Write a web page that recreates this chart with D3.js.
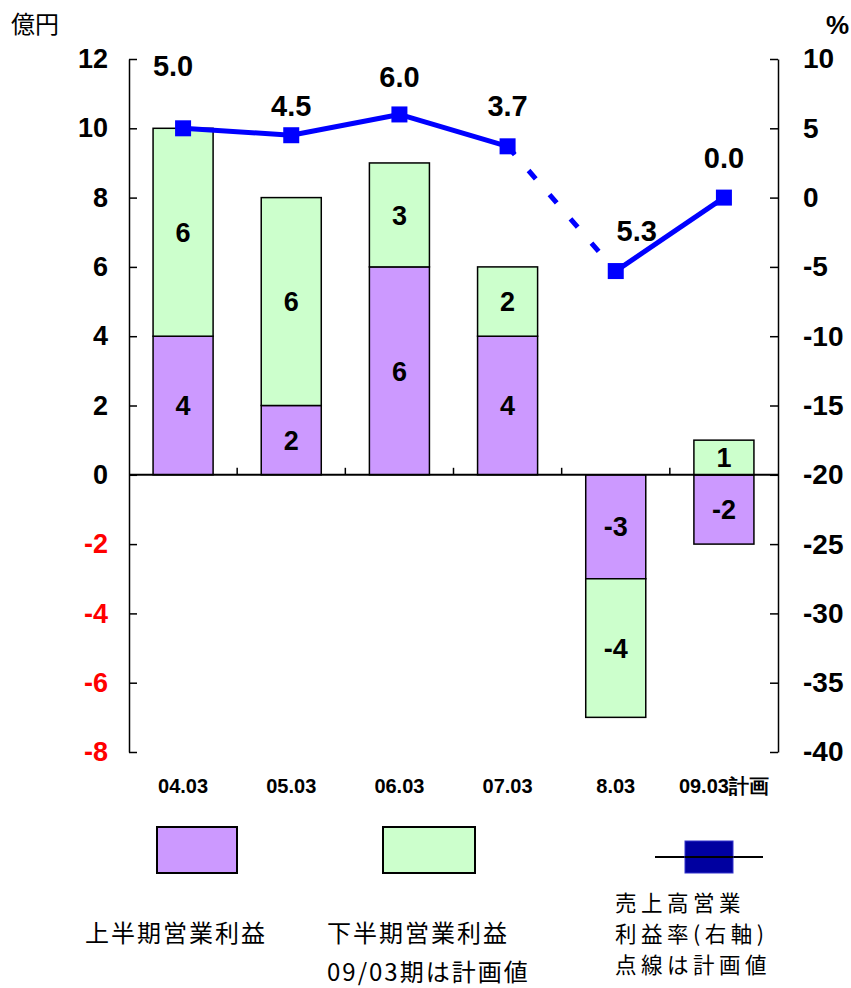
<!DOCTYPE html>
<html>
<head>
<meta charset="utf-8">
<script src="https://cdn.jsdelivr.net/npm/d3@7"></script>
<style>
  html, body { margin: 0; padding: 0; background: #fff; }
  svg { display: block; }
  .num { font-family: "Liberation Sans", Arial, sans-serif; font-weight: bold; }
  .jp { font-family: "Noto Sans CJK JP", "Noto Sans", sans-serif; }
</style>
</head>
<body>
<svg id="chart" width="851" height="988"></svg>
<script>
// Fiscal periods (March year-end)
const categories = ["04.03", "05.03", "06.03", "07.03", "8.03", "09.03計画"];
// Operating profit, 億円
const firstHalf  = [4, 2, 6, 4, -3, -2];   // 上半期営業利益
const secondHalf = [6, 6, 3, 2, -4, 1];    // 下半期営業利益
// Operating margin on sales, % (right axis)
const marginRate = [5.0, 4.5, 6.0, 3.7, -5.3, 0.0];
// Segment index drawn dotted (planned figure)
const dottedSegments = [3];
// Axis ticks
const leftTicks  = [-8, -6, -4, -2, 0, 2, 4, 6, 8, 10, 12];
const rightTicks = [-40, -35, -30, -25, -20, -15, -10, -5, 0, 5, 10];

// Small label nudges for the rate labels (layout only)
const rateLabelNudge = [[-10, -22], [0, 11], [0, 3], [0, 0], [21, 0], [0, 0]];

const svg = d3.select("#chart");
const plot = { left: 129, right: 778, top: 59, bottom: 752 };

const x = d3.scaleBand().domain(categories).range([plot.left, plot.right]).padding(0);
const barW = x.bandwidth() * 0.555;
const yL = d3.scaleLinear().domain([-8, 12]).range([plot.bottom, plot.top]);
const yR = d3.scaleLinear().domain([-40, 10]).range([plot.bottom, plot.top]);

const purple = "#CC99FF", green = "#CCFFCC", blue = "#0000FF";
const intLabel = d => String(d);   // plain hyphen-minus for negatives

// Stacked bars (diverging so negatives stack downward)
const rows = categories.map((c, i) => ({ cat: c, first: firstHalf[i], second: secondHalf[i] }));
const stack = d3.stack().keys(["first", "second"]).offset(d3.stackOffsetDiverging);
const layers = stack(rows);
const fills = { first: purple, second: green };

const barG = svg.append("g");
layers.forEach(layer => {
  const g = barG.append("g");
  g.selectAll("rect").data(layer).join("rect")
    .attr("x", d => x(d.data.cat) + (x.bandwidth() - barW) / 2)
    .attr("y", d => yL(Math.max(d[0], d[1])))
    .attr("width", barW)
    .attr("height", d => Math.abs(yL(d[0]) - yL(d[1])))
    .attr("fill", fills[layer.key])
    .attr("stroke", "#000")
    .attr("stroke-width", 1.5);
  g.selectAll("text").data(layer).join("text")
    .attr("class", "num")
    .attr("x", d => x(d.data.cat) + x.bandwidth() / 2)
    .attr("y", d => yL((d[0] + d[1]) / 2))
    .attr("dy", "0.36em")
    .attr("text-anchor", "middle")
    .attr("font-size", 27)
    .text(d => intLabel(d.data[layer.key]));
});

// Zero baseline and category separators
svg.append("line")
  .attr("x1", plot.left).attr("x2", plot.right)
  .attr("y1", yL(0)).attr("y2", yL(0))
  .attr("stroke", "#000").attr("stroke-width", 2);
svg.append("g").selectAll("line").data(categories.slice(1)).join("line")
  .attr("x1", d => x(d)).attr("x2", d => x(d))
  .attr("y1", yL(0) - 7).attr("y2", yL(0))
  .attr("stroke", "#000").attr("stroke-width", 1.5);

// Left axis (億円)
const axL = svg.append("g").attr("transform", `translate(${plot.left},0)`)
  .call(d3.axisLeft(yL).tickValues(leftTicks).tickSizeInner(-8).tickSizeOuter(0).tickPadding(21).tickFormat(intLabel));
axL.select(".domain").attr("stroke-width", 1.5);
axL.selectAll(".tick line").attr("stroke-width", 1.5);
axL.selectAll(".tick text")
  .attr("class", "num").attr("font-size", 27)
  .attr("fill", d => d < 0 ? "#FF0000" : "#000");

// Right axis (%)
const axR = svg.append("g").attr("transform", `translate(${plot.right},0)`)
  .call(d3.axisRight(yR).tickValues(rightTicks).tickSizeInner(-8).tickSizeOuter(0).tickPadding(25).tickFormat(intLabel));
axR.select(".domain").attr("stroke-width", 1.5);
axR.selectAll(".tick line").attr("stroke-width", 1.5);
axR.selectAll(".tick text").attr("class", "num").attr("font-size", 28).attr("fill", "#000");

// Category labels
svg.append("g").selectAll("text").data(categories).join("text")
  .attr("class", "num")
  .attr("x", d => x(d) + x.bandwidth() / 2)
  .attr("y", 793)
  .attr("text-anchor", "middle")
  .attr("font-size", 20)
  .text(d => d);

// Margin line: solid segments, dotted for planned segment
const pts = marginRate.map((v, i) => [x(categories[i]) + x.bandwidth() / 2, yR(v)]);
const segG = svg.append("g");
for (let i = 0; i < pts.length - 1; i++) {
  const dotted = dottedSegments.includes(i);
  segG.append("line")
    .attr("x1", pts[i][0]).attr("y1", pts[i][1])
    .attr("x2", pts[i + 1][0]).attr("y2", pts[i + 1][1])
    .attr("stroke", blue).attr("stroke-width", 5)
    .attr("stroke-dasharray", dotted ? "11,21" : null);
}
svg.append("g").selectAll("rect").data(pts).join("rect")
  .attr("x", d => d[0] - 8).attr("y", d => d[1] - 8)
  .attr("width", 16).attr("height", 16)
  .attr("fill", blue);

// Rate labels, formatted like "0.0;0.0" (no sign on negatives)
const fmtRate = v => d3.format(".1f")(Math.abs(v));
svg.append("g").selectAll("text").data(marginRate).join("text")
  .attr("class", "num")
  .attr("x", (d, i) => pts[i][0] + rateLabelNudge[i][0])
  .attr("y", (d, i) => pts[i][1] - 30 + rateLabelNudge[i][1])
  .attr("text-anchor", "middle")
  .attr("font-size", 29)
  .text(d => fmtRate(d));

// Unit labels
svg.append("text").attr("class", "jp").attr("x", 11).attr("y", 33).attr("font-size", 24).text("億円");
svg.append("text").attr("class", "num").attr("x", 849).attr("y", 34).attr("text-anchor", "end")
  .attr("font-size", 26).attr("font-weight", "normal").text("%");

// Legend
const lg = svg.append("g");
lg.append("rect").attr("x", 157).attr("y", 827).attr("width", 80).attr("height", 46)
  .attr("fill", purple).attr("stroke", "#000").attr("stroke-width", 2);
lg.append("rect").attr("x", 383).attr("y", 827).attr("width", 92).attr("height", 46)
  .attr("fill", green).attr("stroke", "#000").attr("stroke-width", 2);
lg.append("line").attr("x1", 655).attr("x2", 763).attr("y1", 857).attr("y2", 857)
  .attr("stroke", "#000").attr("stroke-width", 2);
lg.append("rect").attr("x", 685).attr("y", 841).attr("width", 48).attr("height", 32)
  .attr("fill", "#0000A0").attr("stroke", "#3333CC").attr("stroke-width", 1);
lg.append("line").attr("x1", 685).attr("x2", 733).attr("y1", 857).attr("y2", 857)
  .attr("stroke", "#000").attr("stroke-width", 2);

// Legend captions
const legendText = [
  { x: 85,  y: 942, lines: ["上半期営業利益"], gap: 0, size: 24, ls: 2 },
  { x: 327, y: 942, lines: ["下半期営業利益", "09/03期は計画値"], gap: 39, size: 24, ls: 2 },
  { x: 615, y: 911, lines: ["売上高営業", "利益率(右軸)", "点線は計画値"], gap: 31.2, size: 21.5, ls: 4.5 }
];
legendText.forEach(item => {
  item.lines.forEach((line, k) => {
    lg.append("text")
      .attr("class", "jp")
      .attr("x", item.x)
      .attr("y", item.y + k * item.gap)
      .attr("font-size", item.size)
      .attr("letter-spacing", item.ls)
      .text(line);
  });
});
</script>
</body>
</html>
